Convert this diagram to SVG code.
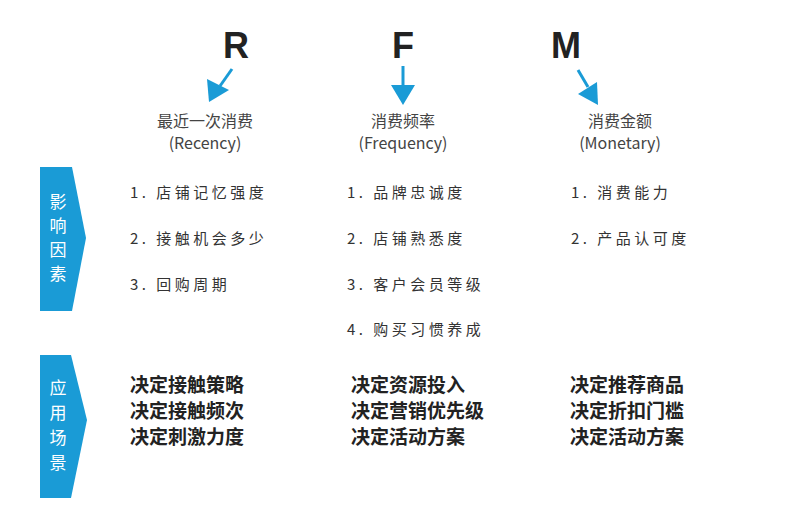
<svg xmlns="http://www.w3.org/2000/svg" width="787" height="523" viewBox="0 0 787 523">
<style>
.L{font-family:"Liberation Sans",Arial,sans-serif;font-weight:bold;font-size:36px;fill:#222;text-anchor:middle}
.h{font-family:"Noto Sans CJK SC","Liberation Sans",sans-serif;font-size:16px;fill:#444;text-anchor:middle}
.i{font-family:"Noto Sans CJK SC",sans-serif;font-size:15px;fill:#333;letter-spacing:3.5px}
.b{font-family:"Noto Sans CJK SC",sans-serif;font-size:19px;font-weight:bold;fill:#222}
.s{font-family:"Noto Sans CJK SC",sans-serif;font-size:17px;fill:#fff;text-anchor:middle}
.a{stroke:#1a9bd6;stroke-width:3;fill:none}
.ah{fill:#1a9bd6}
</style>
<rect width="787" height="523" fill="#fff"/>
<g id="connectors">
<line class="a" x1="232" y1="69" x2="220" y2="86"/><polygon class="ah" points="209,102 207,79 229,90"/>
<line class="a" x1="403" y1="66" x2="403" y2="86"/><polygon class="ah" points="403,105 391,85 415,85"/>
<line class="a" x1="578" y1="70" x2="588" y2="87"/><polygon class="ah" points="598,105 578,94 597,82"/>
</g>
<g id="R"><text class="L" x="236" y="58">R</text><text class="h" x="205" y="127">最近一次消费</text><text class="h" x="205" y="149">(Recency)</text></g>
<g id="F"><text class="L" x="403" y="58">F</text><text class="h" x="403" y="127">消费频率</text><text class="h" x="403" y="149">(Frequency)</text></g>
<g id="M"><text class="L" x="566" y="58">M</text><text class="h" x="620" y="127">消费金额</text><text class="h" x="620" y="149">(Monetary)</text></g>
<g id="side1"><polygon fill="#1a9bd6" points="40,167 72,167 86,238 72,311 40,311"/>
<text class="s" x="58" y="208">影</text><text class="s" x="58" y="232">响</text><text class="s" x="58" y="256">因</text><text class="s" x="58" y="280">素</text></g>
<g id="side2"><polygon fill="#1a9bd6" points="40,355 71,355 87,420 71,498 40,498"/>
<text class="s" x="58" y="394">应</text><text class="s" x="58" y="419">用</text><text class="s" x="58" y="444">场</text><text class="s" x="58" y="469">景</text></g>
<g id="factors">
<text class="i" x="130" y="198">1. 店铺记忆强度</text><text class="i" x="130" y="244">2. 接触机会多少</text><text class="i" x="130" y="290">3. 回购周期</text>
<text class="i" x="347" y="198">1. 品牌忠诚度</text><text class="i" x="347" y="244">2. 店铺熟悉度</text><text class="i" x="347" y="290">3. 客户会员等级</text><text class="i" x="347" y="335">4. 购买习惯养成</text>
<text class="i" x="571" y="198">1. 消费能力</text><text class="i" x="571" y="244">2. 产品认可度</text>
</g>
<g id="uses">
<text class="b" x="130" y="392">决定接触策略</text><text class="b" x="130" y="418">决定接触频次</text><text class="b" x="130" y="444">决定刺激力度</text>
<text class="b" x="351" y="392">决定资源投入</text><text class="b" x="351" y="418">决定营销优先级</text><text class="b" x="351" y="444">决定活动方案</text>
<text class="b" x="570" y="392">决定推荐商品</text><text class="b" x="570" y="418">决定折扣门槛</text><text class="b" x="570" y="444">决定活动方案</text>
</g>
</svg>
